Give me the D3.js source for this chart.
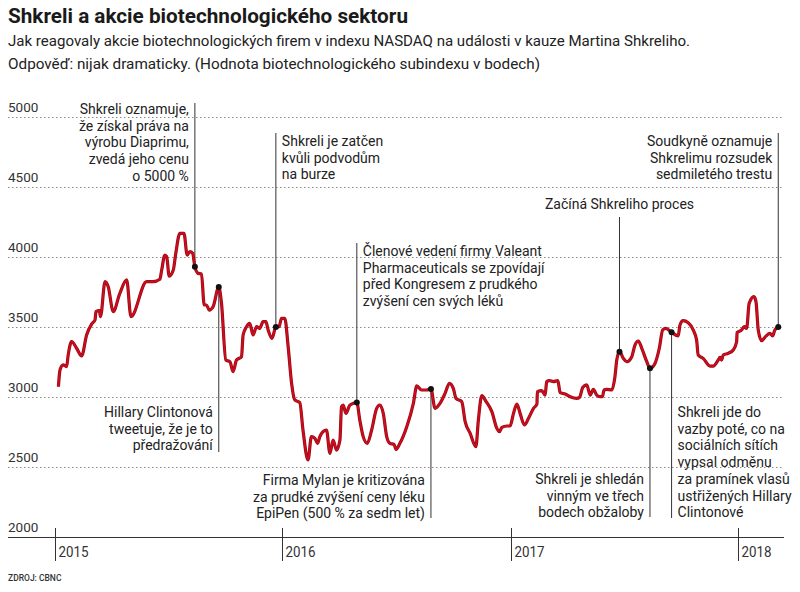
<!DOCTYPE html>
<html>
<head>
<meta charset="utf-8">
<script src="https://cdn.jsdelivr.net/npm/d3@7"></script>
<style>
  html, body { margin: 0; padding: 0; background: #fff; }
  svg { display: block; }
</style>
</head>
<body>
<svg id="chart" width="800" height="592"></svg>
<script>
// ---------- DATA ----------
const titleText = "Shkreli a akcie biotechnologického sektoru";
const subtitleLines = [
  "Jak reagovaly akcie biotechnologických firem v indexu NASDAQ na události v kauze Martina Shkreliho.",
  "Odpověď: nijak dramaticky. (Hodnota biotechnologického subindexu v bodech)"
];
const sourceText = "ZDROJ: CBNC";

const yTicks = [2000, 2500, 3000, 3500, 4000, 4500, 5000];
const xTickYears = [2015, 2016, 2017, 2018];

// time in decimal years, index value in points
const dates = [
  2015.015, 2015.022, 2015.036, 2015.051, 2015.058, 2015.073, 2015.095, 2015.117, 2015.139, 2015.161,
  2015.176, 2015.180, 2015.195, 2015.200, 2015.220, 2015.234, 2015.256, 2015.285, 2015.315, 2015.334,
  2015.403, 2015.432, 2015.461, 2015.469, 2015.483, 2015.491, 2015.502, 2015.520, 2015.531, 2015.549,
  2015.567, 2015.581, 2015.593, 2015.605, 2015.615, 2015.629, 2015.644, 2015.656, 2015.666, 2015.678,
  2015.695, 2015.720, 2015.732, 2015.751, 2015.769, 2015.783, 2015.798, 2015.820, 2015.827, 2015.842,
  2015.856, 2015.871, 2015.886, 2015.900, 2015.915, 2015.927, 2015.937, 2015.954, 2015.971, 2015.985,
  2015.996, 2016.010, 2016.025, 2016.040, 2016.054, 2016.076, 2016.090, 2016.112, 2016.127, 2016.142,
  2016.154, 2016.164, 2016.178, 2016.193, 2016.208, 2016.222, 2016.237, 2016.252, 2016.259, 2016.266,
  2016.278, 2016.296, 2016.326, 2016.339, 2016.354, 2016.372, 2016.391, 2016.413, 2016.427, 2016.442,
  2016.457, 2016.471, 2016.489, 2016.498, 2016.515, 2016.545, 2016.574, 2016.589, 2016.610, 2016.632,
  2016.651, 2016.669, 2016.691, 2016.713, 2016.732, 2016.749, 2016.761, 2016.786, 2016.801, 2016.823,
  2016.848, 2016.859, 2016.874, 2016.893, 2016.918, 2016.940, 2016.951, 2016.962, 2016.984, 2016.998,
  2017.013, 2017.028, 2017.042, 2017.061, 2017.079, 2017.101, 2017.116, 2017.118, 2017.137, 2017.152,
  2017.159, 2017.171, 2017.188, 2017.208, 2017.218, 2017.240, 2017.262, 2017.291, 2017.303, 2017.318,
  2017.335, 2017.350, 2017.364, 2017.379, 2017.394, 2017.404, 2017.411, 2017.423, 2017.445, 2017.459,
  2017.467, 2017.479, 2017.496, 2017.511, 2017.533, 2017.547, 2017.562, 2017.577, 2017.599, 2017.613,
  2017.635, 2017.654, 2017.669, 2017.683, 2017.708, 2017.737, 2017.745, 2017.759, 2017.781, 2017.803,
  2017.818, 2017.825, 2017.847, 2017.877, 2017.891, 2017.913, 2017.921, 2017.928, 2017.935, 2017.957,
  2017.979, 2017.994, 2017.996, 2018.016, 2018.027, 2018.038, 2018.049, 2018.070, 2018.079, 2018.089,
  2018.104, 2018.118, 2018.140, 2018.152, 2018.162, 2018.177
];
const values = [
  3074, 3193, 3229, 3217, 3300, 3395, 3348, 3293, 3443, 3521,
  3550, 3610, 3617, 3574, 3824, 3788, 3610, 3740, 3836, 3574,
  3824, 3824, 3841, 3907, 4014, 4002, 3864, 3907, 4026, 4169,
  4169, 4014, 4038, 4026, 3931, 3883, 3879, 3657, 3657, 3621,
  3645, 3786, 3669, 3264, 3252, 3181, 3264, 3288, 3443, 3502,
  3526, 3443, 3502, 3490, 3538, 3538, 3479, 3419, 3500, 3502,
  3562, 3562, 3359, 3098, 2979, 2960, 2764, 2550, 2717, 2705,
  2669, 2717, 2752, 2764, 2598, 2693, 2621, 2693, 2931, 2943,
  2883, 2943, 2960, 2836, 2717, 2669, 2764, 2919, 2943, 2883,
  2717, 2669, 2662, 2626, 2669, 2788, 2955, 3079, 3050, 3050,
  3057, 2919, 2955, 3026, 3098, 3062, 2990, 2967, 2824, 2740,
  2645, 2836, 3010, 2967, 2895, 2776, 2752, 2783, 2793, 2793,
  2883, 2950, 2883, 2800, 2848, 2919, 2950, 3038, 3045, 3014,
  3110, 3117, 3110, 3117, 3031, 3021, 3002, 2990, 2997, 3069,
  3086, 3014, 3055, 3014, 3002, 3002, 3050, 3055, 3050, 3145,
  3264, 3324, 3276, 3252, 3288, 3371, 3400, 3348, 3252, 3205,
  3240, 3348, 3479, 3490, 3462, 3436, 3514, 3545, 3531, 3479,
  3407, 3300, 3276, 3221, 3221, 3264, 3283, 3264, 3300, 3312,
  3336, 3395, 3460, 3479, 3502, 3490, 3669, 3717, 3681, 3479,
  3402, 3426, 3455, 3436, 3479, 3500
];

// events (decimal year, index value at the event, label lines)
const eventDates  = [2015.615, 2015.720, 2015.971, 2016.326, 2016.651, 2017.479, 2017.613, 2017.708, 2018.177];
const eventValues = [3931, 3786, 3500, 2960, 3057, 3324, 3205, 3462, 3500];
const eventLabels = [
  ["Shkreli oznamuje,", "že získal práva na", "výrobu Diaprimu,", "zvedá jeho cenu", "o 5000 %"],
  ["Hillary Clintonová", "tweetuje, že je to", "předražování"],
  ["Shkreli je zatčen", "kvůli podvodům", "na burze"],
  ["Členové vedení firmy Valeant", "Pharmaceuticals se zpovídají", "před Kongresem z prudkého", "zvýšení cen svých léků"],
  ["Firma Mylan je kritizována", "za prudké zvýšení ceny léku", "EpiPen (500 % za sedm let)"],
  ["Začíná Shkreliho proces"],
  ["Shkreli je shledán", "vinným ve třech", "bodech obžaloby"],
  ["Shkreli jde do", "vazby poté, co na", "sociálních sítích", "vypsal odměnu", "za pramínek vlasů", "ustřižených Hillary", "Clintonové"],
  ["Soudkyně oznamuje", "Shkrelimu rozsudek", "sedmiletého trestu"]
];

// ---------- LAYOUT (pixels) ----------
// side: where text sits relative to leader; leaderEnd: far end of leader (y); textY: baseline of first line
const eventLayout = [
  { side: "right",  leaderEnd: 103, textY: 114 },
  { side: "right",  leaderEnd: 452, textY: 417 },
  { side: "left",   leaderEnd: 133, textY: 146 },
  { side: "left",   leaderEnd: 243, textY: 256 },
  { side: "right",  leaderEnd: 518, textY: 485 },
  { side: "center", leaderEnd: 217, textY: 209 },
  { side: "right",  leaderEnd: 517, textY: 484 },
  { side: "left",   leaderEnd: 518, textY: 417 },
  { side: "right",  leaderEnd: 133, textY: 146 }
];

const W = 800, H = 592;
const plotLeft = 8, plotRight = 784;
const lineColor = "#cc0d1f";
const inkColor = "#222";

function decToDate(d) {
  const y = Math.floor(d);
  const a = new Date(y, 0, 1), b = new Date(y + 1, 0, 1);
  return new Date(+a + (d - y) * (b - a));
}

const svg = d3.select("#chart");

const x = d3.scaleTime()
  .domain([new Date(2015, 0, 1), new Date(2018, 0, 1)])
  .range([55, 738]);
const y = d3.scaleLinear()
  .domain([2000, 5000])
  .range([537, 117]);

// ---------- TITLES ----------
svg.append("text")
  .attr("x", 8).attr("y", 23)
  .attr("font-family", "Roboto, 'Noto Sans', sans-serif")
  .attr("font-weight", 700)
  .attr("font-size", 19.5)
  .attr("fill", "#1a1a1a")
  .attr("textLength", 400).attr("lengthAdjust", "spacingAndGlyphs")
  .text(titleText);

const subW = [682, 532];
subtitleLines.forEach((s, i) => {
  svg.append("text")
    .attr("x", 8).attr("y", 46 + i * 23)
    .attr("font-family", "Roboto, 'Noto Sans', sans-serif")
    .attr("font-size", 15.5)
    .attr("fill", "#222")
    .attr("textLength", subW[i]).attr("lengthAdjust", "spacingAndGlyphs")
    .text(s);
});

// ---------- GRID + Y LABELS ----------
const grid = svg.append("g");
yTicks.filter(v => v > 2000).forEach(v => {
  grid.append("line")
    .attr("x1", plotLeft).attr("x2", plotRight)
    .attr("y1", y(v) + 0.5).attr("y2", y(v) + 0.5)
    .attr("stroke", "#888").attr("stroke-width", 1)
    .attr("stroke-dasharray", "1.5,2.5");
});
yTicks.forEach(v => {
  grid.append("text")
    .attr("x", 8).attr("y", y(v) - 5)
    .attr("font-family", "Roboto, 'Noto Sans', sans-serif")
    .attr("font-size", 13.5)
    .attr("fill", "#333")
    .text(v);
});

// ---------- X AXIS ----------
const xAxis = svg.append("g");
xAxis.append("line")
  .attr("x1", plotLeft).attr("x2", plotRight)
  .attr("y1", y(2000) + 0.5).attr("y2", y(2000) + 0.5)
  .attr("stroke", "#333").attr("stroke-width", 1.2);
xTickYears.forEach(yr => {
  const xx = Math.round(x(new Date(yr, 0, 1))) + 0.5;
  xAxis.append("line")
    .attr("x1", xx).attr("x2", xx)
    .attr("y1", y(2000) - 9).attr("y2", y(2000) + 24)
    .attr("stroke", "#333").attr("stroke-width", 1);
  xAxis.append("text")
    .attr("x", xx + 3).attr("y", y(2000) + 20)
    .attr("font-family", "Roboto, 'Noto Sans', sans-serif")
    .attr("font-size", 14)
    .attr("fill", "#333")
    .attr("textLength", 30).attr("lengthAdjust", "spacingAndGlyphs")
    .text(yr);
});

// ---------- LINE ----------
const series = dates.map((d, i) => ({ date: decToDate(d), value: values[i] }));
const line = d3.line()
  .x(d => x(d.date))
  .y(d => y(d.value))
  .curve(d3.curveMonotoneX);

// ---------- ANNOTATIONS (leaders behind line) ----------
const ann = svg.append("g");
eventDates.forEach((d, i) => {
  const ex = x(decToDate(d));
  const ey = y(eventValues[i]);
  const lay = eventLayout[i];
  ann.append("line")
    .attr("x1", ex).attr("x2", ex)
    .attr("y1", ey).attr("y2", lay.leaderEnd)
    .attr("stroke", "#333").attr("stroke-width", 1);
  let tx = ex, anchor = "start";
  if (lay.side === "right") { tx = ex - 6; anchor = "end"; }
  else if (lay.side === "left") { tx = ex + 6; anchor = "start"; }
  else { tx = ex; anchor = "middle"; }
  const t = ann.append("text")
    .attr("font-family", "Roboto, 'Noto Sans', sans-serif")
    .attr("font-size", 14)
    .attr("fill", inkColor)
    .attr("text-anchor", anchor);
  eventLabels[i].forEach((s, j) => {
    t.append("tspan")
      .attr("x", tx)
      .attr("y", lay.textY + j * 16.7)
      .text(s);
  });
});

svg.append("path")
  .datum(series)
  .attr("fill", "none")
  .attr("stroke", "#9a0a14")
  .attr("stroke-width", 3.2)
  .attr("stroke-linejoin", "round")
  .attr("d", line);
svg.append("path")
  .datum(series)
  .attr("fill", "none")
  .attr("stroke", lineColor)
  .attr("stroke-width", 1.8)
  .attr("stroke-linejoin", "round")
  .attr("d", line);

// dots
svg.append("g").selectAll("circle")
  .data(eventDates.map((d, i) => ({ date: decToDate(d), value: eventValues[i] })))
  .join("circle")
  .attr("cx", d => x(d.date))
  .attr("cy", d => y(d.value))
  .attr("r", 3)
  .attr("fill", "#111");

// source
svg.append("text")
  .attr("x", 8).attr("y", 581)
  .attr("font-family", "Roboto, 'Noto Sans', sans-serif")
  .attr("font-size", 8.5)
  .attr("font-weight", 500)
  .attr("fill", "#333")
  .text(sourceText);
</script>
</body>
</html>
